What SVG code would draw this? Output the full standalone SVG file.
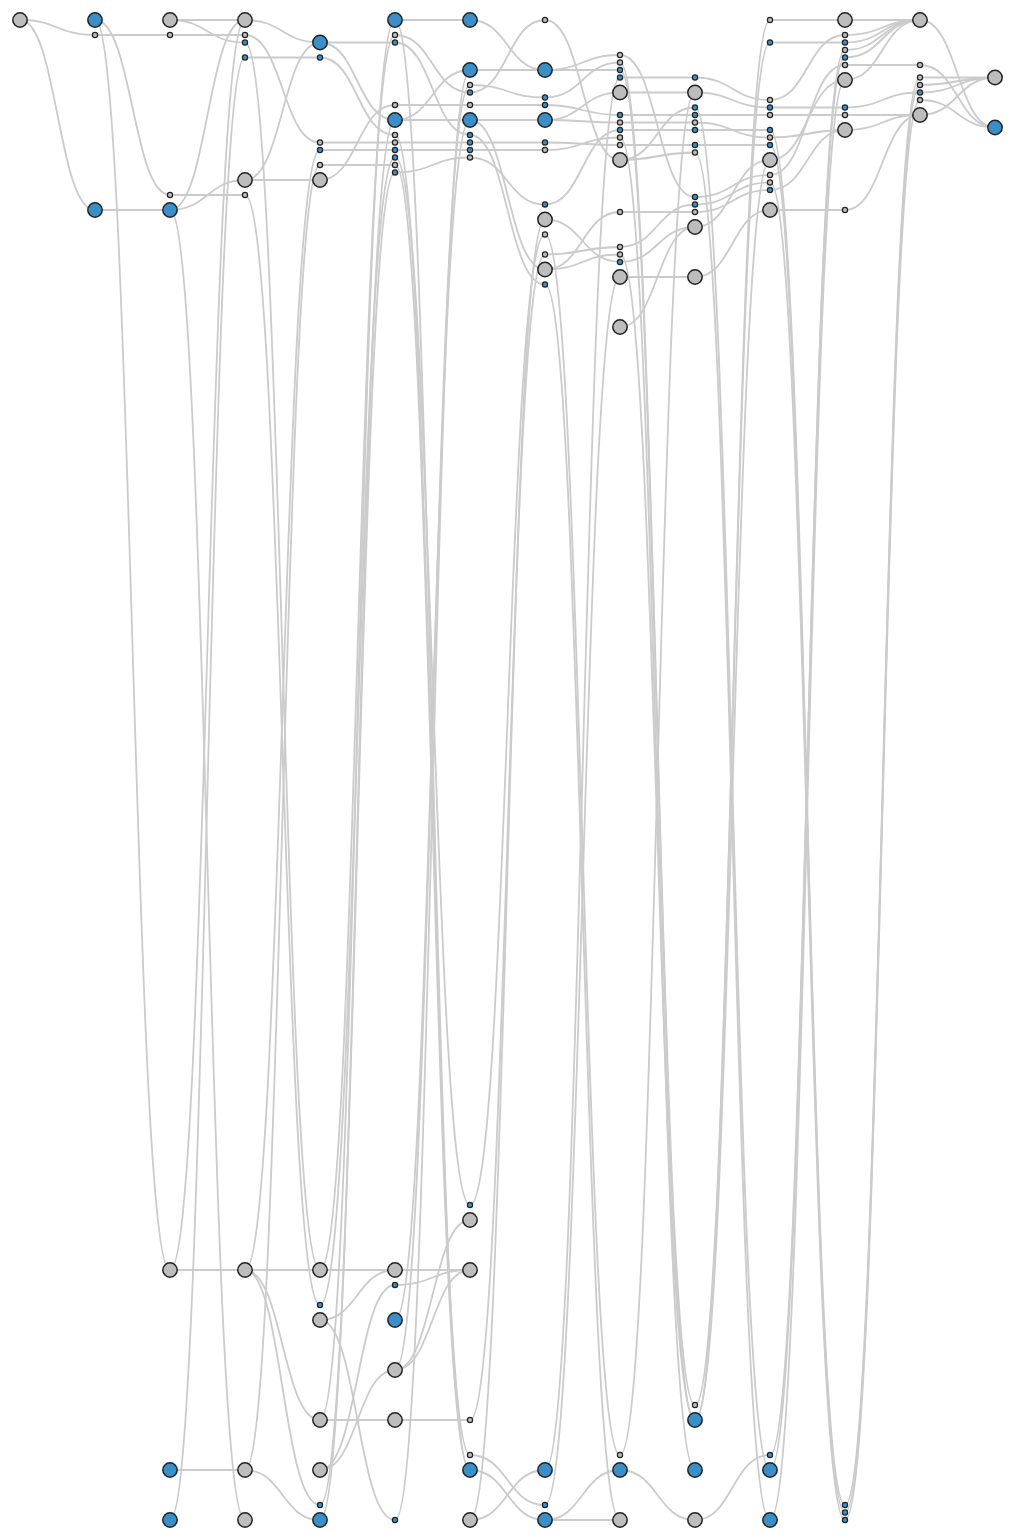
<svg xmlns="http://www.w3.org/2000/svg" width="1015" height="1540" viewBox="0 0 1015 1540">
<style>
.e path{fill:none;stroke:#cbcbcb;stroke-width:1.8}
circle{stroke:#222;stroke-width:1.5}
.s{stroke-width:1.2}
.g{fill:#bdbdbd}
.b{fill:#3a8fc8}
</style>
<rect width="1015" height="1540" fill="#fff"/>
<g id="connectors" class="e">
<path d="M20,20C57.5,20 57.5,35 95,35"/>
<path d="M20,20C57.5,20 57.5,210 95,210"/>
<path d="M95,20C132.5,20 132.5,1270 170,1270"/>
<path d="M95,20C132.5,20 132.5,195 170,195"/>
<path d="M95,35H170"/>
<path d="M95,210H170"/>
<path d="M170,20H245"/>
<path d="M170,20C207.5,20 207.5,42.5 245,42.5"/>
<path d="M170,35H245"/>
<path d="M170,195H245"/>
<path d="M170,210C207.5,210 207.5,180 245,180"/>
<path d="M170,210C207.5,210 207.5,20 245,20"/>
<path d="M170,210C207.5,210 207.5,1520 245,1520"/>
<path d="M170,1270H245"/>
<path d="M170,1270C207.5,1270 207.5,20 245,20"/>
<path d="M170,1470H245"/>
<path d="M170,1520C207.5,1520 207.5,57.5 245,57.5"/>
<path d="M245,20C282.5,20 282.5,42.5 320,42.5"/>
<path d="M245,35C282.5,35 282.5,142.5 320,142.5"/>
<path d="M245,42.5C282.5,42.5 282.5,1270 320,1270"/>
<path d="M245,57.5H320"/>
<path d="M245,180H320"/>
<path d="M245,180C282.5,180 282.5,42.5 320,42.5"/>
<path d="M245,195C282.5,195 282.5,1305 320,1305"/>
<path d="M245,1270H320"/>
<path d="M245,1270C282.5,1270 282.5,1420 320,1420"/>
<path d="M245,1270C282.5,1270 282.5,1505 320,1505"/>
<path d="M245,1270C282.5,1270 282.5,150 320,150"/>
<path d="M245,1470C282.5,1470 282.5,1520 320,1520"/>
<path d="M245,1470C282.5,1470 282.5,165 320,165"/>
<path d="M320,42.5H395"/>
<path d="M320,42.5C357.5,42.5 357.5,120 395,120"/>
<path d="M320,57.5C357.5,57.5 357.5,135 395,135"/>
<path d="M320,142.5H395"/>
<path d="M320,150H395"/>
<path d="M320,165H395"/>
<path d="M320,180C357.5,180 357.5,105 395,105"/>
<path d="M320,1270H395"/>
<path d="M320,1270C357.5,1270 357.5,35 395,35"/>
<path d="M320,1305C357.5,1305 357.5,157.5 395,157.5"/>
<path d="M320,1320C357.5,1320 357.5,1270 395,1270"/>
<path d="M320,1320C357.5,1320 357.5,1520 395,1520"/>
<path d="M320,1420H395"/>
<path d="M320,1420C357.5,1420 357.5,20 395,20"/>
<path d="M320,1470C357.5,1470 357.5,1285 395,1285"/>
<path d="M320,1470C357.5,1470 357.5,1370 395,1370"/>
<path d="M320,1505C357.5,1505 357.5,172.5 395,172.5"/>
<path d="M320,1520C357.5,1520 357.5,120 395,120"/>
<path d="M395,20H470"/>
<path d="M395,20C432.5,20 432.5,1470 470,1470"/>
<path d="M395,35C432.5,35 432.5,92.5 470,92.5"/>
<path d="M395,42.5C432.5,42.5 432.5,135 470,135"/>
<path d="M395,105H470"/>
<path d="M395,120C432.5,120 432.5,70 470,70"/>
<path d="M395,120H470"/>
<path d="M395,135C432.5,135 432.5,1455 470,1455"/>
<path d="M395,142.5H470"/>
<path d="M395,150H470"/>
<path d="M395,157.5C432.5,157.5 432.5,1205 470,1205"/>
<path d="M395,165C432.5,165 432.5,1470 470,1470"/>
<path d="M395,172.5C432.5,172.5 432.5,157.5 470,157.5"/>
<path d="M395,1270H470"/>
<path d="M395,1285C432.5,1285 432.5,1270 470,1270"/>
<path d="M395,1320C432.5,1320 432.5,120 470,120"/>
<path d="M395,1370C432.5,1370 432.5,1220 470,1220"/>
<path d="M395,1370C432.5,1370 432.5,1270 470,1270"/>
<path d="M395,1370C432.5,1370 432.5,85 470,85"/>
<path d="M395,1420H470"/>
<path d="M395,1520C432.5,1520 432.5,70 470,70"/>
<path d="M470,20C507.5,20 507.5,70 545,70"/>
<path d="M470,70H545"/>
<path d="M470,85C507.5,85 507.5,97.5 545,97.5"/>
<path d="M470,92.5C507.5,92.5 507.5,20 545,20"/>
<path d="M470,105H545"/>
<path d="M470,120H545"/>
<path d="M470,120C507.5,120 507.5,269.5 545,269.5"/>
<path d="M470,135C507.5,135 507.5,284.5 545,284.5"/>
<path d="M470,142.5H545"/>
<path d="M470,150H545"/>
<path d="M470,157.5C507.5,157.5 507.5,204.5 545,204.5"/>
<path d="M470,1205C507.5,1205 507.5,234.5 545,234.5"/>
<path d="M470,1420C507.5,1420 507.5,254.5 545,254.5"/>
<path d="M470,1455C507.5,1455 507.5,1505 545,1505"/>
<path d="M470,1470C507.5,1470 507.5,1520 545,1520"/>
<path d="M470,1520C507.5,1520 507.5,1470 545,1470"/>
<path d="M470,1520C507.5,1520 507.5,219.5 545,219.5"/>
<path d="M545,20C582.5,20 582.5,160 620,160"/>
<path d="M545,70H620"/>
<path d="M545,70C582.5,70 582.5,55 620,55"/>
<path d="M545,97.5C582.5,97.5 582.5,62.5 620,62.5"/>
<path d="M545,105C582.5,105 582.5,115 620,115"/>
<path d="M545,120C582.5,120 582.5,92.5 620,92.5"/>
<path d="M545,120C582.5,120 582.5,122.5 620,122.5"/>
<path d="M545,142.5C582.5,142.5 582.5,145 620,145"/>
<path d="M545,150C582.5,150 582.5,137.5 620,137.5"/>
<path d="M545,204.5C582.5,204.5 582.5,130 620,130"/>
<path d="M545,219.5C582.5,219.5 582.5,262 620,262"/>
<path d="M545,234.5C582.5,234.5 582.5,1455 620,1455"/>
<path d="M545,254.5C582.5,254.5 582.5,247 620,247"/>
<path d="M545,269.5C582.5,269.5 582.5,212 620,212"/>
<path d="M545,269.5C582.5,269.5 582.5,254.5 620,254.5"/>
<path d="M545,284.5C582.5,284.5 582.5,1520 620,1520"/>
<path d="M545,1470C582.5,1470 582.5,77.5 620,77.5"/>
<path d="M545,1505C582.5,1505 582.5,277 620,277"/>
<path d="M545,1520C582.5,1520 582.5,1470 620,1470"/>
<path d="M545,1520H620"/>
<path d="M620,55C657.5,55 657.5,197 695,197"/>
<path d="M620,62.5C657.5,62.5 657.5,1405 695,1405"/>
<path d="M620,70C657.5,70 657.5,1420 695,1420"/>
<path d="M620,77.5H695"/>
<path d="M620,92.5H695"/>
<path d="M620,115H695"/>
<path d="M620,122.5H695"/>
<path d="M620,130H695"/>
<path d="M620,137.5C657.5,137.5 657.5,1470 695,1470"/>
<path d="M620,145H695"/>
<path d="M620,160C657.5,160 657.5,107.5 695,107.5"/>
<path d="M620,160C657.5,160 657.5,152.5 695,152.5"/>
<path d="M620,212H695"/>
<path d="M620,247C657.5,247 657.5,204.5 695,204.5"/>
<path d="M620,254.5C657.5,254.5 657.5,1420 695,1420"/>
<path d="M620,262C657.5,262 657.5,227 695,227"/>
<path d="M620,277H695"/>
<path d="M620,327C657.5,327 657.5,227 695,227"/>
<path d="M620,1455C657.5,1455 657.5,92.5 695,92.5"/>
<path d="M620,1470C657.5,1470 657.5,1520 695,1520"/>
<path d="M695,77.5C732.5,77.5 732.5,100 770,100"/>
<path d="M695,92.5C732.5,92.5 732.5,107.5 770,107.5"/>
<path d="M695,107.5C732.5,107.5 732.5,1470 770,1470"/>
<path d="M695,115H770"/>
<path d="M695,122.5C732.5,122.5 732.5,137.5 770,137.5"/>
<path d="M695,130H770"/>
<path d="M695,145H770"/>
<path d="M695,152.5C732.5,152.5 732.5,1520 770,1520"/>
<path d="M695,197C732.5,197 732.5,175 770,175"/>
<path d="M695,204.5C732.5,204.5 732.5,182.5 770,182.5"/>
<path d="M695,212C732.5,212 732.5,190 770,190"/>
<path d="M695,227C732.5,227 732.5,160 770,160"/>
<path d="M695,277C732.5,277 732.5,210 770,210"/>
<path d="M695,1405C732.5,1405 732.5,42.5 770,42.5"/>
<path d="M695,1420C732.5,1420 732.5,20 770,20"/>
<path d="M695,1420C732.5,1420 732.5,160 770,160"/>
<path d="M695,1520C732.5,1520 732.5,1455 770,1455"/>
<path d="M770,20H845"/>
<path d="M770,42.5H845"/>
<path d="M770,100C807.5,100 807.5,35 845,35"/>
<path d="M770,107.5H845"/>
<path d="M770,115H845"/>
<path d="M770,130C807.5,130 807.5,1505 845,1505"/>
<path d="M770,137.5C807.5,137.5 807.5,130 845,130"/>
<path d="M770,145C807.5,145 807.5,1512.5 845,1512.5"/>
<path d="M770,160C807.5,160 807.5,80 845,80"/>
<path d="M770,175C807.5,175 807.5,65 845,65"/>
<path d="M770,182.5C807.5,182.5 807.5,1520 845,1520"/>
<path d="M770,190C807.5,190 807.5,130 845,130"/>
<path d="M770,210H845"/>
<path d="M770,1455C807.5,1455 807.5,57.5 845,57.5"/>
<path d="M770,1470C807.5,1470 807.5,50 845,50"/>
<path d="M770,1520C807.5,1520 807.5,80 845,80"/>
<path d="M845,20H920"/>
<path d="M845,35C882.5,35 882.5,20 920,20"/>
<path d="M845,42.5C882.5,42.5 882.5,20 920,20"/>
<path d="M845,50C882.5,50 882.5,20 920,20"/>
<path d="M845,57.5C882.5,57.5 882.5,20 920,20"/>
<path d="M845,65H920"/>
<path d="M845,80C882.5,80 882.5,20 920,20"/>
<path d="M845,107.5C882.5,107.5 882.5,92.5 920,92.5"/>
<path d="M845,115H920"/>
<path d="M845,130C882.5,130 882.5,115 920,115"/>
<path d="M845,210C882.5,210 882.5,115 920,115"/>
<path d="M845,1505C882.5,1505 882.5,77.5 920,77.5"/>
<path d="M845,1512.5C882.5,1512.5 882.5,85 920,85"/>
<path d="M845,1520C882.5,1520 882.5,100 920,100"/>
<path d="M920,20C957.5,20 957.5,127.5 995,127.5"/>
<path d="M920,65C957.5,65 957.5,127.5 995,127.5"/>
<path d="M920,77.5H995"/>
<path d="M920,85C957.5,85 957.5,77.5 995,77.5"/>
<path d="M920,92.5C957.5,92.5 957.5,77.5 995,77.5"/>
<path d="M920,100C957.5,100 957.5,127.5 995,127.5"/>
<path d="M920,115C957.5,115 957.5,77.5 995,77.5"/>
</g>
<g id="nodes">
<g id="n0_20"><circle class="n g" cx="20" cy="20" r="7.2"/></g>
<g id="n1_20"><circle class="n b" cx="95" cy="20" r="7.2"/></g>
<g id="n1_35"><circle class="s g" cx="95" cy="35" r="2.6"/></g>
<g id="n1_210"><circle class="n b" cx="95" cy="210" r="7.2"/></g>
<g id="n2_20"><circle class="n g" cx="170" cy="20" r="7.2"/></g>
<g id="n2_35"><circle class="s g" cx="170" cy="35" r="2.6"/></g>
<g id="n2_195"><circle class="s g" cx="170" cy="195" r="2.6"/></g>
<g id="n2_210"><circle class="n b" cx="170" cy="210" r="7.2"/></g>
<g id="n2_1270"><circle class="n g" cx="170" cy="1270" r="7.2"/></g>
<g id="n2_1470"><circle class="n b" cx="170" cy="1470" r="7.2"/></g>
<g id="n2_1520"><circle class="n b" cx="170" cy="1520" r="7.2"/></g>
<g id="n3_20"><circle class="n g" cx="245" cy="20" r="7.2"/></g>
<g id="n3_35"><circle class="s g" cx="245" cy="35" r="2.6"/></g>
<g id="n3_42"><circle class="s b" cx="245" cy="42.5" r="2.6"/></g>
<g id="n3_57"><circle class="s b" cx="245" cy="57.5" r="2.6"/></g>
<g id="n3_180"><circle class="n g" cx="245" cy="180" r="7.2"/></g>
<g id="n3_195"><circle class="s g" cx="245" cy="195" r="2.6"/></g>
<g id="n3_1270"><circle class="n g" cx="245" cy="1270" r="7.2"/></g>
<g id="n3_1470"><circle class="n g" cx="245" cy="1470" r="7.2"/></g>
<g id="n3_1520"><circle class="n g" cx="245" cy="1520" r="7.2"/></g>
<g id="n4_42"><circle class="n b" cx="320" cy="42.5" r="7.2"/></g>
<g id="n4_57"><circle class="s b" cx="320" cy="57.5" r="2.6"/></g>
<g id="n4_142"><circle class="s g" cx="320" cy="142.5" r="2.6"/></g>
<g id="n4_150"><circle class="s b" cx="320" cy="150" r="2.6"/></g>
<g id="n4_165"><circle class="s g" cx="320" cy="165" r="2.6"/></g>
<g id="n4_180"><circle class="n g" cx="320" cy="180" r="7.2"/></g>
<g id="n4_1270"><circle class="n g" cx="320" cy="1270" r="7.2"/></g>
<g id="n4_1305"><circle class="s b" cx="320" cy="1305" r="2.6"/></g>
<g id="n4_1320"><circle class="n g" cx="320" cy="1320" r="7.2"/></g>
<g id="n4_1420"><circle class="n g" cx="320" cy="1420" r="7.2"/></g>
<g id="n4_1470"><circle class="n g" cx="320" cy="1470" r="7.2"/></g>
<g id="n4_1505"><circle class="s b" cx="320" cy="1505" r="2.6"/></g>
<g id="n4_1520"><circle class="n b" cx="320" cy="1520" r="7.2"/></g>
<g id="n5_20"><circle class="n b" cx="395" cy="20" r="7.2"/></g>
<g id="n5_35"><circle class="s g" cx="395" cy="35" r="2.6"/></g>
<g id="n5_42"><circle class="s b" cx="395" cy="42.5" r="2.6"/></g>
<g id="n5_105"><circle class="s g" cx="395" cy="105" r="2.6"/></g>
<g id="n5_120"><circle class="n b" cx="395" cy="120" r="7.2"/></g>
<g id="n5_135"><circle class="s g" cx="395" cy="135" r="2.6"/></g>
<g id="n5_142"><circle class="s g" cx="395" cy="142.5" r="2.6"/></g>
<g id="n5_150"><circle class="s b" cx="395" cy="150" r="2.6"/></g>
<g id="n5_157"><circle class="s b" cx="395" cy="157.5" r="2.6"/></g>
<g id="n5_165"><circle class="s g" cx="395" cy="165" r="2.6"/></g>
<g id="n5_172"><circle class="s b" cx="395" cy="172.5" r="2.6"/></g>
<g id="n5_1270"><circle class="n g" cx="395" cy="1270" r="7.2"/></g>
<g id="n5_1285"><circle class="s b" cx="395" cy="1285" r="2.6"/></g>
<g id="n5_1320"><circle class="n b" cx="395" cy="1320" r="7.2"/></g>
<g id="n5_1370"><circle class="n g" cx="395" cy="1370" r="7.2"/></g>
<g id="n5_1420"><circle class="n g" cx="395" cy="1420" r="7.2"/></g>
<g id="n5_1520"><circle class="s b" cx="395" cy="1520" r="2.6"/></g>
<g id="n6_20"><circle class="n b" cx="470" cy="20" r="7.2"/></g>
<g id="n6_70"><circle class="n b" cx="470" cy="70" r="7.2"/></g>
<g id="n6_85"><circle class="s g" cx="470" cy="85" r="2.6"/></g>
<g id="n6_92"><circle class="s b" cx="470" cy="92.5" r="2.6"/></g>
<g id="n6_105"><circle class="s g" cx="470" cy="105" r="2.6"/></g>
<g id="n6_120"><circle class="n b" cx="470" cy="120" r="7.2"/></g>
<g id="n6_135"><circle class="s b" cx="470" cy="135" r="2.6"/></g>
<g id="n6_142"><circle class="s b" cx="470" cy="142.5" r="2.6"/></g>
<g id="n6_150"><circle class="s b" cx="470" cy="150" r="2.6"/></g>
<g id="n6_157"><circle class="s g" cx="470" cy="157.5" r="2.6"/></g>
<g id="n6_1205"><circle class="s b" cx="470" cy="1205" r="2.6"/></g>
<g id="n6_1220"><circle class="n g" cx="470" cy="1220" r="7.2"/></g>
<g id="n6_1270"><circle class="n g" cx="470" cy="1270" r="7.2"/></g>
<g id="n6_1420"><circle class="s g" cx="470" cy="1420" r="2.6"/></g>
<g id="n6_1455"><circle class="s g" cx="470" cy="1455" r="2.6"/></g>
<g id="n6_1470"><circle class="n b" cx="470" cy="1470" r="7.2"/></g>
<g id="n6_1520"><circle class="n g" cx="470" cy="1520" r="7.2"/></g>
<g id="n7_20"><circle class="s g" cx="545" cy="20" r="2.6"/></g>
<g id="n7_70"><circle class="n b" cx="545" cy="70" r="7.2"/></g>
<g id="n7_97"><circle class="s b" cx="545" cy="97.5" r="2.6"/></g>
<g id="n7_105"><circle class="s b" cx="545" cy="105" r="2.6"/></g>
<g id="n7_120"><circle class="n b" cx="545" cy="120" r="7.2"/></g>
<g id="n7_142"><circle class="s b" cx="545" cy="142.5" r="2.6"/></g>
<g id="n7_150"><circle class="s g" cx="545" cy="150" r="2.6"/></g>
<g id="n7_204"><circle class="s b" cx="545" cy="204.5" r="2.6"/></g>
<g id="n7_219"><circle class="n g" cx="545" cy="219.5" r="7.2"/></g>
<g id="n7_234"><circle class="s g" cx="545" cy="234.5" r="2.6"/></g>
<g id="n7_254"><circle class="s g" cx="545" cy="254.5" r="2.6"/></g>
<g id="n7_269"><circle class="n g" cx="545" cy="269.5" r="7.2"/></g>
<g id="n7_284"><circle class="s b" cx="545" cy="284.5" r="2.6"/></g>
<g id="n7_1470"><circle class="n b" cx="545" cy="1470" r="7.2"/></g>
<g id="n7_1505"><circle class="s b" cx="545" cy="1505" r="2.6"/></g>
<g id="n7_1520"><circle class="n b" cx="545" cy="1520" r="7.2"/></g>
<g id="n8_55"><circle class="s g" cx="620" cy="55" r="2.6"/></g>
<g id="n8_62"><circle class="s g" cx="620" cy="62.5" r="2.6"/></g>
<g id="n8_70"><circle class="s b" cx="620" cy="70" r="2.6"/></g>
<g id="n8_77"><circle class="s b" cx="620" cy="77.5" r="2.6"/></g>
<g id="n8_92"><circle class="n g" cx="620" cy="92.5" r="7.2"/></g>
<g id="n8_115"><circle class="s b" cx="620" cy="115" r="2.6"/></g>
<g id="n8_122"><circle class="s g" cx="620" cy="122.5" r="2.6"/></g>
<g id="n8_130"><circle class="s b" cx="620" cy="130" r="2.6"/></g>
<g id="n8_137"><circle class="s g" cx="620" cy="137.5" r="2.6"/></g>
<g id="n8_145"><circle class="s g" cx="620" cy="145" r="2.6"/></g>
<g id="n8_160"><circle class="n g" cx="620" cy="160" r="7.2"/></g>
<g id="n8_212"><circle class="s g" cx="620" cy="212" r="2.6"/></g>
<g id="n8_247"><circle class="s g" cx="620" cy="247" r="2.6"/></g>
<g id="n8_254"><circle class="s g" cx="620" cy="254.5" r="2.6"/></g>
<g id="n8_262"><circle class="s b" cx="620" cy="262" r="2.6"/></g>
<g id="n8_277"><circle class="n g" cx="620" cy="277" r="7.2"/></g>
<g id="n8_327"><circle class="n g" cx="620" cy="327" r="7.2"/></g>
<g id="n8_1455"><circle class="s g" cx="620" cy="1455" r="2.6"/></g>
<g id="n8_1470"><circle class="n b" cx="620" cy="1470" r="7.2"/></g>
<g id="n8_1520"><circle class="n g" cx="620" cy="1520" r="7.2"/></g>
<g id="n9_77"><circle class="s b" cx="695" cy="77.5" r="2.6"/></g>
<g id="n9_92"><circle class="n g" cx="695" cy="92.5" r="7.2"/></g>
<g id="n9_107"><circle class="s b" cx="695" cy="107.5" r="2.6"/></g>
<g id="n9_115"><circle class="s b" cx="695" cy="115" r="2.6"/></g>
<g id="n9_122"><circle class="s g" cx="695" cy="122.5" r="2.6"/></g>
<g id="n9_130"><circle class="s b" cx="695" cy="130" r="2.6"/></g>
<g id="n9_145"><circle class="s b" cx="695" cy="145" r="2.6"/></g>
<g id="n9_152"><circle class="s g" cx="695" cy="152.5" r="2.6"/></g>
<g id="n9_197"><circle class="s b" cx="695" cy="197" r="2.6"/></g>
<g id="n9_204"><circle class="s b" cx="695" cy="204.5" r="2.6"/></g>
<g id="n9_212"><circle class="s g" cx="695" cy="212" r="2.6"/></g>
<g id="n9_227"><circle class="n g" cx="695" cy="227" r="7.2"/></g>
<g id="n9_277"><circle class="n g" cx="695" cy="277" r="7.2"/></g>
<g id="n9_1405"><circle class="s g" cx="695" cy="1405" r="2.6"/></g>
<g id="n9_1420"><circle class="n b" cx="695" cy="1420" r="7.2"/></g>
<g id="n9_1470"><circle class="n b" cx="695" cy="1470" r="7.2"/></g>
<g id="n9_1520"><circle class="n g" cx="695" cy="1520" r="7.2"/></g>
<g id="n10_20"><circle class="s g" cx="770" cy="20" r="2.6"/></g>
<g id="n10_42"><circle class="s b" cx="770" cy="42.5" r="2.6"/></g>
<g id="n10_100"><circle class="s g" cx="770" cy="100" r="2.6"/></g>
<g id="n10_107"><circle class="s b" cx="770" cy="107.5" r="2.6"/></g>
<g id="n10_115"><circle class="s g" cx="770" cy="115" r="2.6"/></g>
<g id="n10_130"><circle class="s b" cx="770" cy="130" r="2.6"/></g>
<g id="n10_137"><circle class="s g" cx="770" cy="137.5" r="2.6"/></g>
<g id="n10_145"><circle class="s b" cx="770" cy="145" r="2.6"/></g>
<g id="n10_160"><circle class="n g" cx="770" cy="160" r="7.2"/></g>
<g id="n10_175"><circle class="s g" cx="770" cy="175" r="2.6"/></g>
<g id="n10_182"><circle class="s g" cx="770" cy="182.5" r="2.6"/></g>
<g id="n10_190"><circle class="s b" cx="770" cy="190" r="2.6"/></g>
<g id="n10_210"><circle class="n g" cx="770" cy="210" r="7.2"/></g>
<g id="n10_1455"><circle class="s b" cx="770" cy="1455" r="2.6"/></g>
<g id="n10_1470"><circle class="n b" cx="770" cy="1470" r="7.2"/></g>
<g id="n10_1520"><circle class="n b" cx="770" cy="1520" r="7.2"/></g>
<g id="n11_20"><circle class="n g" cx="845" cy="20" r="7.2"/></g>
<g id="n11_35"><circle class="s g" cx="845" cy="35" r="2.6"/></g>
<g id="n11_42"><circle class="s b" cx="845" cy="42.5" r="2.6"/></g>
<g id="n11_50"><circle class="s g" cx="845" cy="50" r="2.6"/></g>
<g id="n11_57"><circle class="s b" cx="845" cy="57.5" r="2.6"/></g>
<g id="n11_65"><circle class="s g" cx="845" cy="65" r="2.6"/></g>
<g id="n11_80"><circle class="n g" cx="845" cy="80" r="7.2"/></g>
<g id="n11_107"><circle class="s b" cx="845" cy="107.5" r="2.6"/></g>
<g id="n11_115"><circle class="s g" cx="845" cy="115" r="2.6"/></g>
<g id="n11_130"><circle class="n g" cx="845" cy="130" r="7.2"/></g>
<g id="n11_210"><circle class="s g" cx="845" cy="210" r="2.6"/></g>
<g id="n11_1505"><circle class="s b" cx="845" cy="1505" r="2.6"/></g>
<g id="n11_1512"><circle class="s b" cx="845" cy="1512.5" r="2.6"/></g>
<g id="n11_1520"><circle class="s b" cx="845" cy="1520" r="2.6"/></g>
<g id="n12_20"><circle class="n g" cx="920" cy="20" r="7.2"/></g>
<g id="n12_65"><circle class="s g" cx="920" cy="65" r="2.6"/></g>
<g id="n12_77"><circle class="s g" cx="920" cy="77.5" r="2.6"/></g>
<g id="n12_85"><circle class="s g" cx="920" cy="85" r="2.6"/></g>
<g id="n12_92"><circle class="s b" cx="920" cy="92.5" r="2.6"/></g>
<g id="n12_100"><circle class="s g" cx="920" cy="100" r="2.6"/></g>
<g id="n12_115"><circle class="n g" cx="920" cy="115" r="7.2"/></g>
<g id="n13_77"><circle class="n g" cx="995" cy="77.5" r="7.2"/></g>
<g id="n13_127"><circle class="n b" cx="995" cy="127.5" r="7.2"/></g>
</g>
</svg>
